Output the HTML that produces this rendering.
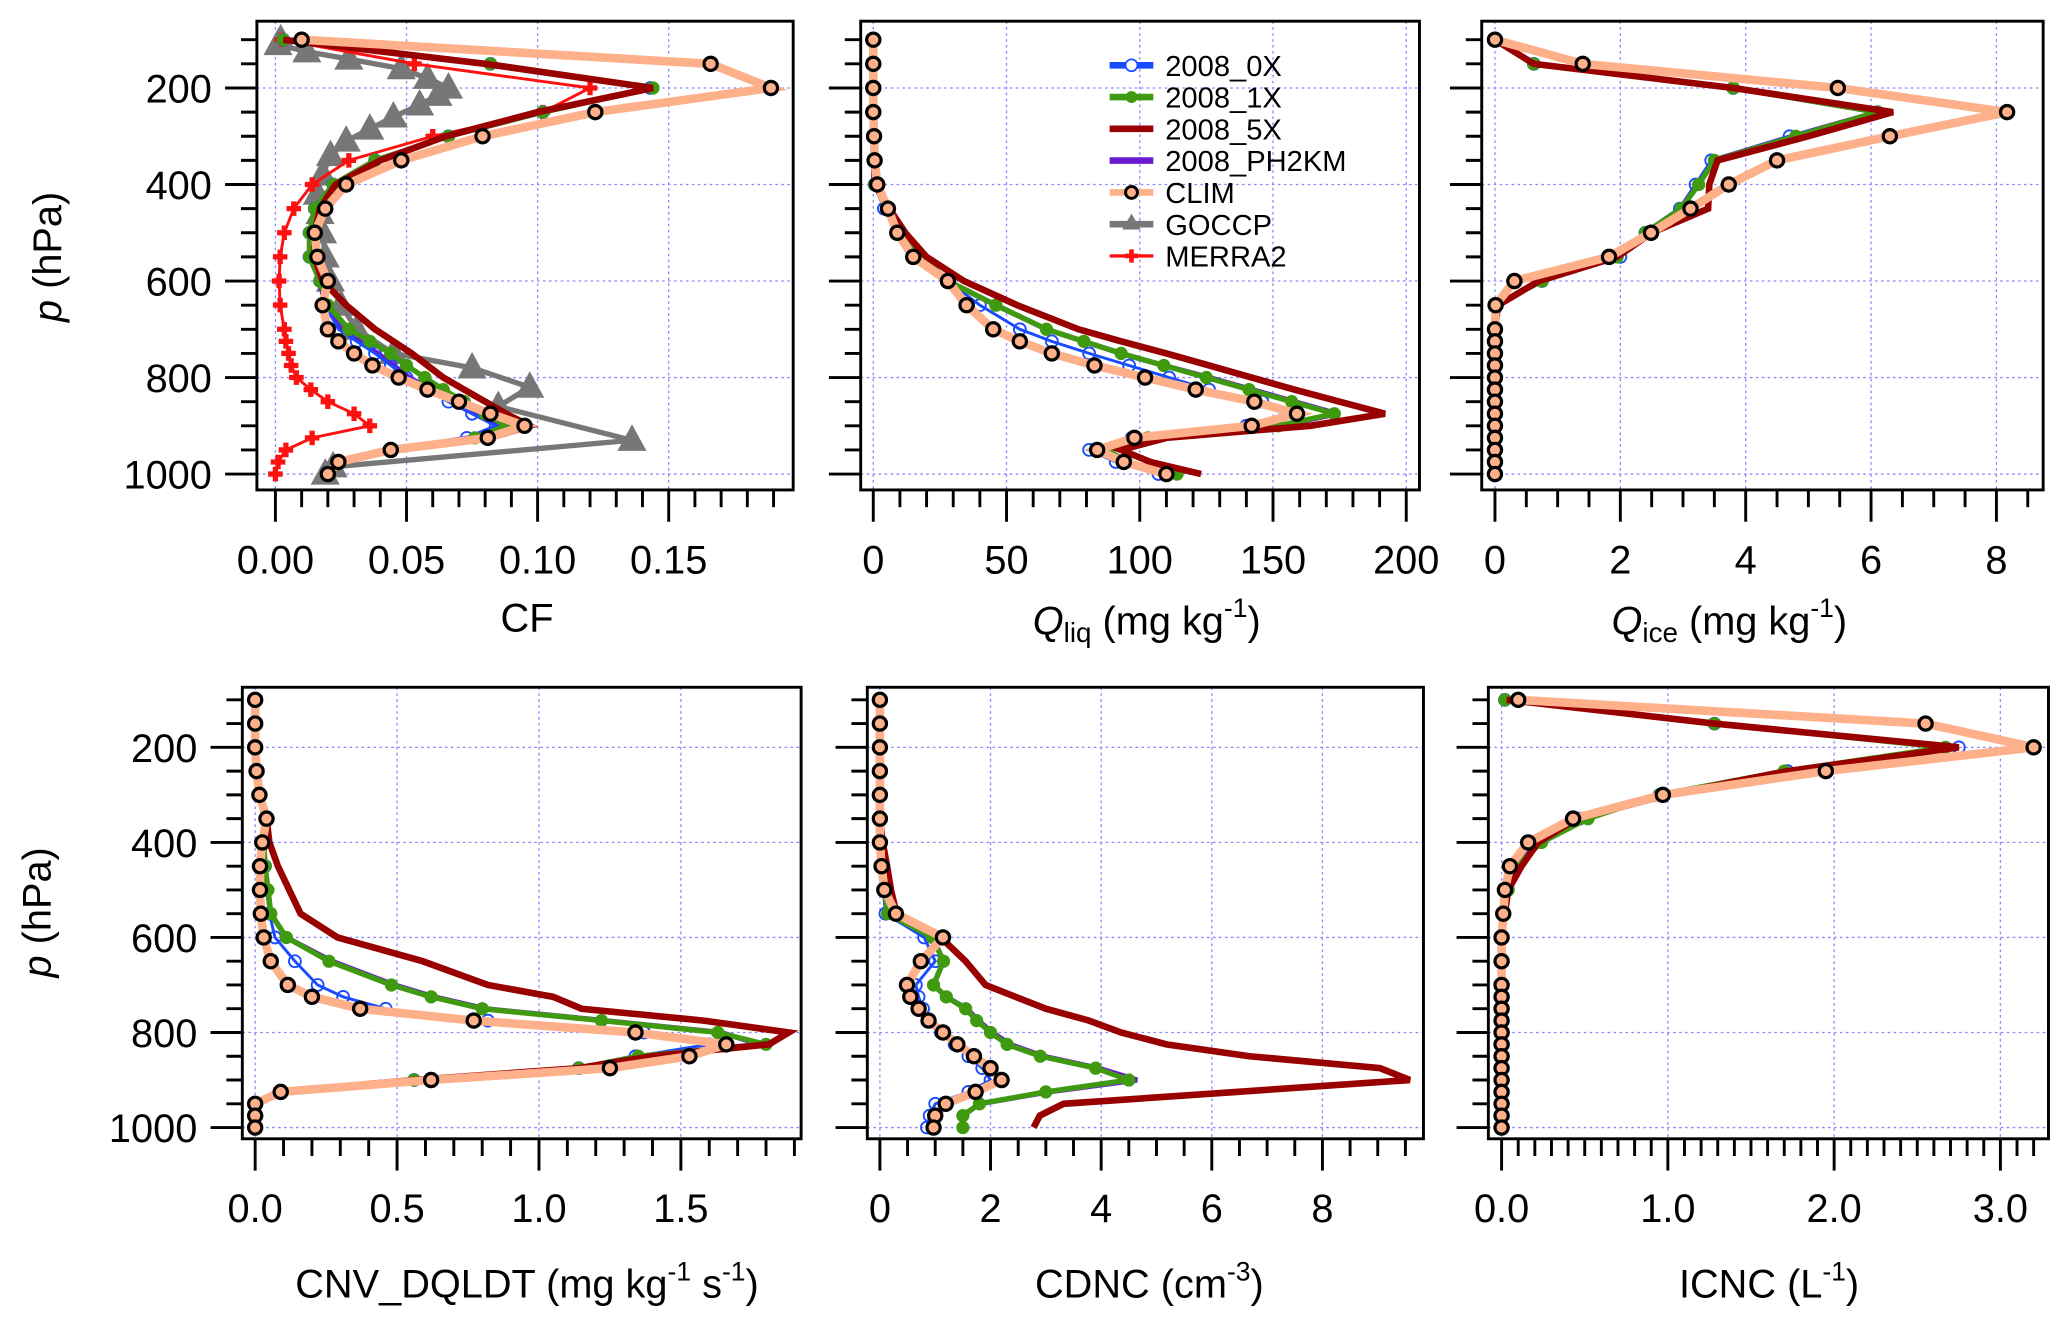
<!DOCTYPE html>
<html><head><meta charset="utf-8">
<style>
html,body{margin:0;padding:0;background:#fff;}
svg{display:block;font-family:"Liberation Sans",Arial,sans-serif;}
</style></head>
<body>
<svg id="fig" width="2067" height="1321" viewBox="0 0 1561 997.6" preserveAspectRatio="none" xmlns="http://www.w3.org/2000/svg">
<rect x="0" y="0" width="1561" height="998" fill="#fff"/>
<g id="plots"></g>
<g id="labels">
 <text transform="translate(46,194) rotate(-90)" text-anchor="middle" font-size="30"><tspan font-style="italic">p</tspan> (hPa)</text>
 <text transform="translate(38,689) rotate(-90)" text-anchor="middle" font-size="30"><tspan font-style="italic">p</tspan> (hPa)</text>
 <text x="398" y="477" text-anchor="middle" font-size="30">CF</text>
 <text x="866" y="479" text-anchor="middle" font-size="30"><tspan font-style="italic">Q</tspan><tspan font-size="21" dy="6">liq</tspan><tspan dy="-6"> (mg kg</tspan><tspan font-size="20" dy="-13">-1</tspan><tspan dy="13">)</tspan></text>
 <text x="1306" y="479" text-anchor="middle" font-size="30"><tspan font-style="italic">Q</tspan><tspan font-size="21" dy="6">ice</tspan><tspan dy="-6"> (mg kg</tspan><tspan font-size="20" dy="-13">-1</tspan><tspan dy="13">)</tspan></text>
 <text x="398" y="980" text-anchor="middle" font-size="30">CNV_DQLDT (mg kg<tspan font-size="20" dy="-13">-1</tspan><tspan dy="13"> s</tspan><tspan font-size="20" dy="-13">-1</tspan><tspan dy="13">)</tspan></text>
 <text x="868" y="980" text-anchor="middle" font-size="30">CDNC (cm<tspan font-size="20" dy="-13">-3</tspan><tspan dy="13">)</tspan></text>
 <text x="1336" y="980" text-anchor="middle" font-size="30">ICNC (L<tspan font-size="20" dy="-13">-1</tspan><tspan dy="13">)</tspan></text>
</g>
<g id="legend"></g>
</svg>
<script>
// ---- data ----
const levels = [100,150,200,250,300,350,400,450,500,550,600,650,700,725,750,775,800,825,850,875,900,925,950,975,1000];
const goccpLevels = [100,110,125,140,160,180,200,215,235,260,285,310,340,380,420,460,500,550,600,650,700,750,780,820,860,930,985,1000];

const cfClim = [0.010,0.166,0.189,0.122,0.079,0.048,0.027,0.019,0.015,0.016,0.020,0.018,0.020,0.024,0.030,0.037,0.047,0.058,0.070,0.082,0.095,0.081,0.044,0.024,0.020];
const cf0x = [0.003,0.082,0.143,0.102,0.066,0.038,0.022,0.015,0.013,0.013,0.017,0.019,0.024,0.031,0.038,0.044,0.050,0.058,0.066,0.075,0.084,0.073,0.044,0.024,0.020];
const cf1x = [0.003,0.082,0.144,0.102,0.066,0.038,0.022,0.015,0.013,0.013,0.017,0.020,0.028,0.036,0.044,0.050,0.057,0.064,0.072,0.080,0.088,0.076,0.044,0.024,0.020];
const cf5x = [0.003,0.080,0.144,0.100,0.065,0.040,0.023,0.017,0.015,0.015,0.018,0.027,0.038,0.045,0.052,0.058,0.064,0.072,0.080,0.088,0.097,0.082,0.045,0.025,0.020];
const cfPh = [0.003,0.082,0.143,0.102,0.066,0.038,0.022,0.015,0.013,0.013,0.017,0.019,0.025,0.032,0.039,0.045,0.051,0.059,0.067,0.076,0.085,0.074,0.044,0.024,0.020];
const cfGoccp = [0.002,0.001,0.012,0.028,0.048,0.058,0.066,0.062,0.055,0.045,0.036,0.027,0.021,0.018,0.016,0.017,0.018,0.019,0.021,0.025,0.031,0.045,0.075,0.097,0.085,0.136,0.022,0.019];
const cfMerra = [0.0024,0.053,0.120,0.102,0.060,0.028,0.014,0.007,0.0034,0.0018,0.0014,0.0018,0.0034,0.004,0.005,0.006,0.008,0.0135,0.020,0.030,0.036,0.014,0.004,0.001,0.000];

const qliqClim = [0,0,0,0,0.3,0.5,1.5,5.5,9,15,28,35,45,55,67,83,102,121,143,159,142,98,84,94,110];
const qliq0x = [0,0,0,0,0.2,0.4,0.5,4,9,16,28,40,55,67,81,96,111,126,146,155,140,97,81,91,107];
const qliq1x = [0,0,0,0,0.2,0.4,0.5,5,10,18,28,46,65,79,93,109,125,141,157,173,152,103,88,95,114];
const qliq5x = [0,0,0,0,0.2,0.4,0.5,6,12,20,34,54,77,93,110,126,142,158,175,192,164,110,93,104,123];
const qliqPh = [0,0,0,0,0.2,0.4,0.5,5,10,18,28,46,65,79,93,109,126,142,158,174,153,103,88,95,114];

const qiceClim = [0,1.4,5.47,8.17,6.3,4.5,3.73,3.12,2.49,1.82,0.31,0.01,0,0,0,0,0,0,0,0,0,0,0,0,0];
const qice0x = [0,0.62,3.8,6.1,4.7,3.45,3.2,2.95,2.4,2.0,0.75,0,0,0,0,0,0,0,0,0,0,0,0,0,0];
const qice1x = [0,0.62,3.8,6.1,4.8,3.5,3.25,2.97,2.4,1.95,0.75,0,0,0,0,0,0,0,0,0,0,0,0,0,0];
const qice5x = [0,0.62,3.8,6.35,5.0,3.55,3.42,3.4,2.5,1.95,0.7,0.05,0,0,0,0,0,0,0,0,0,0,0,0,0];
const qicePh = [0,0.62,3.8,6.1,4.75,3.48,3.22,2.96,2.4,1.97,0.75,0,0,0,0,0,0,0,0,0,0,0,0,0,0];

const cnvClim = [0,0,0,0.005,0.015,0.04,0.025,0.017,0.017,0.02,0.03,0.055,0.115,0.2,0.37,0.77,1.34,1.66,1.53,1.25,0.62,0.09,0,0,0];
const cnv0x = [0,0,0,0.005,0.015,0.04,0.03,0.035,0.04,0.05,0.07,0.14,0.22,0.31,0.46,0.82,1.37,1.6,1.34,1.14,0.56,0.09,0,0,0];
const cnv1x = [0,0,0,0.005,0.015,0.04,0.03,0.035,0.045,0.055,0.11,0.26,0.48,0.62,0.8,1.22,1.63,1.8,1.35,1.14,0.56,0.09,0,0,0];
const cnv5x = [0,0,0,0.005,0.015,0.04,0.05,0.08,0.12,0.16,0.29,0.59,0.82,1.05,1.15,1.58,1.88,1.81,1.40,1.14,0.56,0.09,0,0,0];
const cnvPh = [0,0,0,0.005,0.015,0.04,0.03,0.035,0.045,0.055,0.11,0.27,0.49,0.63,0.81,1.23,1.64,1.78,1.35,1.14,0.56,0.09,0,0,0];

const cdncClim = [0,0,0,0,0,0,0,0.03,0.08,0.29,1.14,0.74,0.49,0.55,0.7,0.88,1.14,1.4,1.7,2.0,2.2,1.73,1.19,1.0,0.97];
const cdnc0x = [0,0,0,0,0,0,0,0.02,0.06,0.1,0.8,1.0,0.65,0.7,0.78,0.9,1.1,1.35,1.6,1.85,2.0,1.6,1.0,0.9,0.85];
const cdnc1x = [0,0,0,0,0,0,0,0.03,0.08,0.14,0.95,1.15,0.97,1.2,1.55,1.75,2.0,2.3,2.9,3.9,4.5,3.0,1.8,1.5,1.5];
const cdnc5x = [0,0,0,0,0,0,0.05,0.13,0.2,0.3,1.1,1.55,1.91,2.45,3.0,3.78,4.36,5.18,6.68,9.04,9.58,6.45,3.32,2.89,2.78];
const cdncPh = [0,0,0,0,0,0,0,0.03,0.08,0.14,0.95,1.15,0.97,1.2,1.57,1.78,2.03,2.35,2.95,3.95,4.65,3.05,1.8,1.5,1.5];

const icncClim = [0.1,2.55,3.2,1.95,0.97,0.43,0.16,0.05,0.02,0.01,0,0,0,0,0,0,0,0,0,0,0,0,0,0,0];
const icnc0x = [0.02,1.28,2.75,1.72,0.95,0.47,0.2,0.08,0.03,0.01,0,0,0,0,0,0,0,0,0,0,0,0,0,0,0];
const icnc1x = [0.02,1.28,2.67,1.7,0.95,0.52,0.24,0.09,0.04,0.01,0,0,0,0,0,0,0,0,0,0,0,0,0,0,0];
const icnc5x = [0.03,1.28,2.75,1.72,1.0,0.45,0.22,0.12,0.04,0.02,0,0,0,0,0,0,0,0,0,0,0,0,0,0,0];
const icncPh = [0.02,1.28,2.74,1.71,0.95,0.48,0.21,0.08,0.03,0.01,0,0,0,0,0,0,0,0,0,0,0,0,0,0,0];

const yMajorTicks = [200,400,600,800,1000];
const yTickLabels = ["200","400","600","800","1000"];
const cfTicks = [0,0.05,0.10,0.15], cfTickLabels = ["0.00","0.05","0.10","0.15"];
const qliqTicks = [0,50,100,150,200], qliqTickLabels = ["0","50","100","150","200"];
const qiceTicks = [0,2,4,6,8], qiceTickLabels = ["0","2","4","6","8"];
const cnvTicks = [0,0.5,1.0,1.5], cnvTickLabels = ["0.0","0.5","1.0","1.5"];
const cdncTicks = [0,2,4,6,8], cdncTickLabels = ["0","2","4","6","8"];
const icncTicks = [0,1,2,3], icncTickLabels = ["0.0","1.0","2.0","3.0"];
const legendNames = ["2008_0X","2008_1X","2008_5X","2008_PH2KM","CLIM","GOCCP","MERRA2"];

// ---- drawing ----
const NS = "http://www.w3.org/2000/svg";
const root = document.getElementById('plots');
function mk(tag, parent){ const e = document.createElementNS(NS, tag); parent.appendChild(e); return e; }
const COL = {b:'#1a4cff', g:'#3f9a10', r:'#990000', p:'#6a1ad0', c:'#fdb08a', gr:'#777777', m:'#ff1010'};

function drawPanel(cfg){
  const g = mk('g', root);
  
  
  const xs = v => cfg.x0 + (v - cfg.xmin)/(cfg.xmax - cfg.xmin)*(cfg.x1 - cfg.x0);
  const ys = p => cfg.py0 + (p - 100)/900*(cfg.py1 - cfg.py0);
  cfg.ticks.forEach(t => {
    const l = mk('line', g);
    
    
    l.setAttribute('x1', xs(t)); l.setAttribute('x2', xs(t)); l.setAttribute('y1', cfg.top); l.setAttribute('y2', cfg.bot);
    l.setAttribute('stroke', '#8a8aff'); l.setAttribute('stroke-width', '1'); l.setAttribute('stroke-dasharray', '2,2.5');
  });
  yMajorTicks.forEach(p => {
    const l = mk('line', g);
    
    
    l.setAttribute('x1', cfg.left); l.setAttribute('x2', cfg.right); l.setAttribute('y1', ys(p)); l.setAttribute('y2', ys(p));
    l.setAttribute('stroke', '#8a8aff'); l.setAttribute('stroke-width', '1'); l.setAttribute('stroke-dasharray', '2,2.5');
  });
  cfg.series.forEach(s => {
    const lv = s.levels || levels;
    const pts = s.vals.map((v,i) => xs(v).toFixed(2) + ',' + ys(lv[i]).toFixed(2)).join(' ');
    const pl = mk('polyline', g);
    
    
    pl.setAttribute('points', pts); pl.setAttribute('fill', 'none');
    pl.setAttribute('stroke', s.color); pl.setAttribute('stroke-width', s.w);
    pl.setAttribute('stroke-linejoin', 'miter');
    if (!s.marker) return;
    s.vals.forEach((v,i) => {
      const cx = xs(v), cy = ys(lv[i]);
      let m;
      if (s.marker === 'open' || s.marker === 'dot' || s.marker === 'clim') {
        m = mk('circle', g);
        m.setAttribute('cx', cx); m.setAttribute('cy', cy);
        if (s.marker === 'open') { m.setAttribute('r', 4.5); m.setAttribute('fill', 'none'); m.setAttribute('stroke', s.color); m.setAttribute('stroke-width', 1.4); }
        else if (s.marker === 'dot') { m.setAttribute('r', 5); m.setAttribute('fill', s.color); }
        else { m.setAttribute('r', 5); m.setAttribute('fill', COL.c); m.setAttribute('stroke', '#000'); m.setAttribute('stroke-width', 2.4); }
      } else if (s.marker === 'tri') {
        m = mk('polygon', g);
        m.setAttribute('points', `${cx},${cy-12} ${cx-11},${cy+8} ${cx+11},${cy+8}`);
        m.setAttribute('fill', s.color);
      } else if (s.marker === 'plus') {
        m = mk('path', g);
        m.setAttribute('d', `M${cx-5.5},${cy}H${cx+5.5}M${cx},${cy-5.5}V${cy+5.5}`);
        m.setAttribute('stroke', s.color); m.setAttribute('stroke-width', 4);
      }
      
      
    });
  });
  const fr = mk('rect', g);
  
  
  fr.setAttribute('x', cfg.left); fr.setAttribute('y', cfg.top);
  fr.setAttribute('width', cfg.right - cfg.left); fr.setAttribute('height', cfg.bot - cfg.top);
  fr.setAttribute('fill', 'none'); fr.setAttribute('stroke', '#000'); fr.setAttribute('stroke-width', 2.2);
  for (let p = 100; p <= 1000; p += 50) {
    const major = p % 200 === 0;
    const t = mk('line', g);
    
    
    t.setAttribute('x1', cfg.left - (major ? 24 : 12)); t.setAttribute('x2', cfg.left);
    t.setAttribute('y1', ys(p)); t.setAttribute('y2', ys(p));
    t.setAttribute('stroke', '#000'); t.setAttribute('stroke-width', 2.2);
  }
  if (cfg.yLabels) {
    yMajorTicks.forEach((p,i) => {
      const tx = mk('text', g);
      
      
      tx.setAttribute('x', cfg.left - 34); tx.setAttribute('y', ys(p) + 11);
      tx.setAttribute('text-anchor', 'end'); tx.setAttribute('font-size', '30');
      tx.textContent = yTickLabels[i];
    });
  }
  const nMinor = Math.round((cfg.xlimit - cfg.xmin)/cfg.minor);
  for (let k = 0; k <= nMinor; k++) {
    const v = cfg.xmin + k*cfg.minor;
    const major = cfg.ticks.some(t => Math.abs(t - v) < 1e-9);
    const t = mk('line', g);
    
    
    t.setAttribute('x1', xs(v)); t.setAttribute('x2', xs(v));
    t.setAttribute('y1', cfg.bot); t.setAttribute('y2', cfg.bot + (major ? 24 : 13));
    t.setAttribute('stroke', '#000'); t.setAttribute('stroke-width', 2.2);
  }
  cfg.ticks.forEach((v,i) => {
    const tx = mk('text', g);
    
    
    tx.setAttribute('x', xs(v)); tx.setAttribute('y', cfg.bot + 63);
    tx.setAttribute('text-anchor', 'middle'); tx.setAttribute('font-size', '30');
    tx.textContent = cfg.tickLabels[i];
  });
}

function modelSeries(v0, v1, v5, vp, vc){
  return [
    {key:'2008-ph2km', vals:vp, color:COL.p, w:4},
    {key:'2008-0x', vals:v0, color:COL.b, w:2.2, marker:'open'},
    {key:'2008-1x', vals:v1, color:COL.g, w:4, marker:'dot'},
    {key:'2008-5x', vals:v5, color:COL.r, w:5},
    {key:'clim', vals:vc, color:COL.c, w:6.5, marker:'clim'}
  ];
}

const T = {top:16, bot:370, py0:30, py1:358};
const B = {top:519, bot:860, py0:528.5, py1:851.5};

drawPanel(Object.assign({name:'panel-cf', left:194, right:599, x0:208, x1:505, xmin:0, xmax:0.15, xlimit:0.19, minor:0.01, ticks:cfTicks, tickLabels:cfTickLabels, yLabels:true,
  series:[{key:'goccp', vals:cfGoccp, levels:goccpLevels, color:COL.gr, w:4, marker:'tri'},
          {key:'merra2', vals:cfMerra, color:COL.m, w:2.2, marker:'plus'}].concat(modelSeries(cf0x, cf1x, cf5x, cfPh, cfClim))}, T));
drawPanel(Object.assign({name:'panel-qliq', left:650, right:1072, x0:659.5, x1:1062, xmin:0, xmax:200, xlimit:200, minor:10, ticks:qliqTicks, tickLabels:qliqTickLabels, yLabels:false,
  series:modelSeries(qliq0x, qliq1x, qliq5x, qliqPh, qliqClim)}, T));
drawPanel(Object.assign({name:'panel-qice', left:1119, right:1543, x0:1129, x1:1507.7, xmin:0, xmax:8, xlimit:8.5, minor:0.5, ticks:qiceTicks, tickLabels:qiceTickLabels, yLabels:false,
  series:modelSeries(qice0x, qice1x, qice5x, qicePh, qiceClim)}, T));
drawPanel(Object.assign({name:'panel-cnv-dqldt', left:183, right:605, x0:192.7, x1:514.2, xmin:0, xmax:1.5, xlimit:1.9, minor:0.1, ticks:cnvTicks, tickLabels:cnvTickLabels, yLabels:true,
  series:modelSeries(cnv0x, cnv1x, cnv5x, cnvPh, cnvClim)}, B));
drawPanel(Object.assign({name:'panel-cdnc', left:655, right:1075, x0:664.5, x1:998.7, xmin:0, xmax:8, xlimit:9.5, minor:0.5, ticks:cdncTicks, tickLabels:cdncTickLabels, yLabels:false,
  series:modelSeries(cdnc0x, cdnc1x, cdnc5x, cdncPh, cdncClim)}, B));
drawPanel(Object.assign({name:'panel-icnc', left:1124, right:1547, x0:1134, x1:1510.7, xmin:0, xmax:3, xlimit:3.2, minor:0.1, ticks:icncTicks, tickLabels:icncTickLabels, yLabels:false,
  series:modelSeries(icnc0x, icnc1x, icnc5x, icncPh, icncClim)}, B));

const lg = document.getElementById('legend');
const legStyle = [
  {c:COL.b, w:5, m:'open'}, {c:COL.g, w:5, m:'dot'}, {c:COL.r, w:5}, {c:COL.p, w:5},
  {c:COL.c, w:5, m:'clim'}, {c:COL.gr, w:5, m:'tri'}, {c:COL.m, w:2.5, m:'plus'}
];
legendNames.forEach((nm,i) => {
  const y = 49.3 + i*24;
  const st = legStyle[i];
  const e = mk('g', lg);
  
  
  const l = mk('line', e);
  l.setAttribute('x1', 838); l.setAttribute('x2', 871); l.setAttribute('y1', y); l.setAttribute('y2', y);
  l.setAttribute('stroke', st.c); l.setAttribute('stroke-width', st.w);
  const cx = 854.5;
  if (st.m === 'open' || st.m === 'dot' || st.m === 'clim') {
    const c = mk('circle', e);
    c.setAttribute('cx', cx); c.setAttribute('cy', y); c.setAttribute('r', 4.5);
    if (st.m === 'open') { c.setAttribute('fill', '#fff'); c.setAttribute('stroke', st.c); c.setAttribute('stroke-width', 1.3); }
    else if (st.m === 'dot') { c.setAttribute('fill', st.c); }
    else { c.setAttribute('fill', COL.c); c.setAttribute('stroke', '#000'); c.setAttribute('stroke-width', 2.2); }
  } else if (st.m === 'tri') {
    const p = mk('polygon', e);
    p.setAttribute('points', `${cx},${y-8} ${cx-7},${y+4} ${cx+7},${y+4}`); p.setAttribute('fill', st.c);
  } else if (st.m === 'plus') {
    const p = mk('path', e);
    p.setAttribute('d', `M${cx-5},${y}H${cx+5}M${cx},${y-5}V${y+5}`); p.setAttribute('stroke', st.c); p.setAttribute('stroke-width', 3.5);
  }
  const t = mk('text', e);
  t.setAttribute('x', 880); t.setAttribute('y', y + 8); t.setAttribute('font-size', '22');
  t.textContent = nm;
});
</script>
</body></html>
